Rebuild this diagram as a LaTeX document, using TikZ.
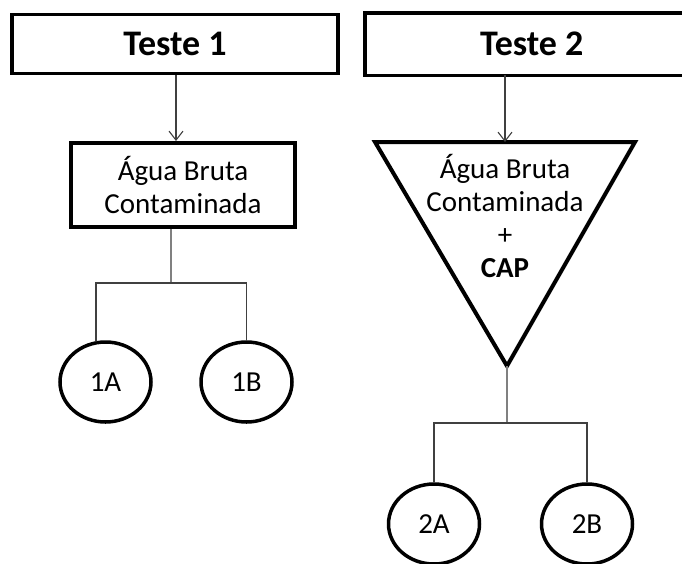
\documentclass[tikz,border=0pt]{standalone}
\usepackage{fontspec}
\setmainfont{Carlito}
\usetikzlibrary{shapes.geometric,arrows.meta}
\definecolor{darkgray}{rgb}{0.25, 0.25, 0.25}
\definecolor{stemgray}{rgb}{0.5, 0.5, 0.5}

\begin{document}
\begin{tikzpicture}[x=1pt, y=-1pt,
    testebox/.style={draw, line width=3.5pt, inner sep=0pt, minimum height=59pt,
      font=\bfseries\fontsize{36}{42}\selectfont},
    aguabox/.style={draw, line width=4pt, inner sep=0pt, minimum width=224pt,
      minimum height=84pt, align=center, font=\fontsize{29}{33}\selectfont},
    bolha/.style={draw, ellipse, line width=3.5pt, inner sep=0pt, minimum width=91pt,
      minimum height=80pt, font=\fontsize{29}{33}\selectfont},
    seta/.style={darkgray, line width=1.1pt, -{Straight Barb[length=9pt,width=14pt]}},
    galho/.style={darkgray, line width=1.3pt, line cap = round},
    haste/.style={stemgray, line width=2pt}]
    \useasboundingbox (0,0) rectangle (682,563);

    \node[testebox, minimum width=326pt] (teste1) at (175,44) {Teste 1};
    % box cut off at the right edge of the page
    \node[testebox, draw=none, minimum width=330pt, anchor=west] (teste2) at (365,44) {Teste 2};
    \draw[line width=3.5pt, line join=miter] (teste2.north east) -- (teste2.north west)
      -- (teste2.south west) -- (teste2.south east);

    \node[aguabox] (agua1) at (183,185) {Água Bruta\\Contaminada};

    \coordinate (t2l) at (375,142);
    \coordinate (t2r) at (635,142);
    \coordinate (t2top) at (505,142);
    \coordinate (t2apex) at (507,366);
    \draw[line width=4pt, line join=miter] (t2l) -- (t2r) -- (t2apex) -- cycle;
    \node[align=center, inner sep=0pt, font=\fontsize{29}{33}\selectfont] (agua2) at (505,216)
      {Água Bruta\\Contaminada\\+\\\textbf{CAP}};

    \foreach \nome/\x/\y in {1A/105.5/382, 1B/246.5/382, 2A/434/524, 2B/587/524}{
      \node[bolha] (e\nome) at (\x,\y) {\nome};
    }

    \coordinate (fork1) at (171,283);
    \coordinate (fork2) at (507,423);

    \draw[seta] (teste1.south -| 176,0) -- (176,0 |- agua1.north);
    \draw[seta] (teste2.south -| t2top) -- (t2top);

    \draw[haste] (fork1 |- agua1.south) -- (fork1);
    \draw[haste] (t2apex) -- (fork2);

    \draw[galho] (e1A.103) -- (e1A.103 |- fork1) -- (e1B.north |- fork1) -- (e1B.north);
    \draw[galho] (e2A.north) -- (e2A.north |- fork2) -- (e2B.north |- fork2) -- (e2B.north);
  \end{tikzpicture}
\end{document}
